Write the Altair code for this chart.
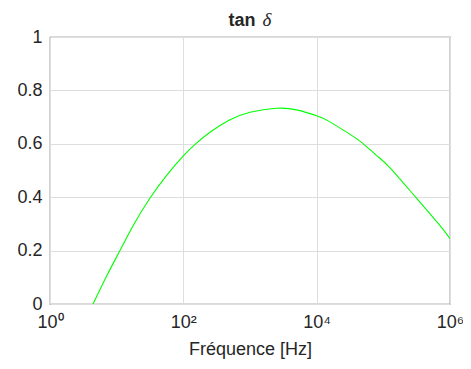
import altair as alt
import pandas as pd

freq_hz = [4.42, 7.08, 11.2, 17.8, 31.3, 56.2, 100, 153, 251, 484, 1000,
           2480, 5010, 10000, 15300, 30500, 50100, 79400, 126000, 305000,
           684000, 1000000]
tan_delta = [0.0, 0.105, 0.2, 0.295, 0.395, 0.482, 0.555, 0.6, 0.643, 0.688, 0.718,
             0.733, 0.727, 0.705, 0.684, 0.638, 0.6, 0.556, 0.51, 0.4,
             0.298, 0.245]

x_ticks = [1, 100, 10000, 1000000]
y_ticks = [0, 0.2, 0.4, 0.6, 0.8, 1]
title_parts = ["tan", "δ"]

df = pd.DataFrame({"f": freq_hz, "t": tan_delta})

font = "Liberation Sans"
tc = "#262626"

line = alt.Chart(df).mark_line(color="#00ff00", strokeWidth=1.1, interpolate="natural", clip=True).encode(
    x=alt.X("f:Q",
            scale=alt.Scale(type="log", domain=[1, 1000000], nice=False),
            axis=alt.Axis(values=x_ticks, title="Fréquence [Hz]",
                          labelExpr="datum.value == 1 ? '10⁰' : datum.value == 100 ? '10²' : datum.value == 10000 ? '10⁴' : '10⁶'",
                          grid=True, gridColor="#dedede", gridWidth=1,
                          ticks=False, domain=False,
                          labelFont=font, labelFontSize=18, labelColor=tc,
                          labelPadding=9, labelFlush=False,
                          titleFont=font, titleFontSize=18, titleFontWeight="normal",
                          titleColor=tc, titlePadding=9)),
    y=alt.Y("t:Q",
            scale=alt.Scale(domain=[0, 1], nice=False),
            axis=alt.Axis(values=y_ticks, format=".1~f", title=None,
                          grid=True, gridColor="#dedede", gridWidth=1,
                          ticks=False, domain=False,
                          labelFont=font, labelFontSize=18, labelColor=tc,
                          labelPadding=8)),
)

tan_txt = alt.Chart(pd.DataFrame({"s": [title_parts[0]]})).mark_text(
    font=font, fontWeight="bold", fontSize=18, color=tc,
    align="center", baseline="alphabetic"
).encode(text="s:N", x=alt.value(192), y=alt.value(-11))

delta_txt = alt.Chart(pd.DataFrame({"s": [title_parts[1]]})).mark_text(
    font="Liberation Serif", fontStyle="italic", fontSize=19, color=tc,
    align="center", baseline="alphabetic"
).encode(text="s:N", x=alt.value(217), y=alt.value(-11))

chart = alt.layer(line, tan_txt, delta_txt).properties(
    width=400, height=267,
    autosize=alt.AutoSizeParams(type="none"),
    padding={"left": 42, "top": 29, "right": 13, "bottom": 57},
    background="white",
).configure_view(stroke="#6a6a6a", strokeWidth=1.2)

chart.save("out.html", embed_options={"renderer": "svg", "actions": False})
